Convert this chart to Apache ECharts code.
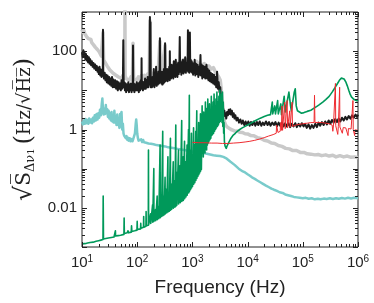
<!DOCTYPE html>
<html><head><meta charset="utf-8">
<script src="https://cdn.jsdelivr.net/npm/echarts@6/dist/echarts.min.js"></script>
<style>html,body{margin:0;padding:0;background:#fff}#c{width:374px;height:303px}</style>
</head><body><div id="c"></div>
<script>
// ---- data: [frequency (Hz), sqrt(S) (Hz/sqrt(Hz))] ----
const grayData = [[10,360],[10.4,300],[10.8,340],[11.2,280],[11.6,300],[12,240],[12.5,260],[13,210],[13.5,230],[14,190],[14.5,200],[15,165],[15.6,175],[16.2,145],[16.8,150],[17.5,125],[18.2,130],[19,110],[19.8,115],[20.6,95],[21.5,90],[22.4,75],[23.4,70],[24,300],[24.6,60],[25.8,55],[27,48],[28.5,42],[30,38],[32,33],[34,35],[36,28],[38,30],[40,25],[43,27],[46,22],[49,24],[52,20],[55,24],[58,20],[59.6,25],[60,1100],[60.4,24],[63,20],[67,22],[72,18],[77,22],[82,18],[84,160],[86,20],[92,22],[98,18],[105,22],[112,19],[120,24],[128,20],[136,24],[145,20],[155,26],[165,22],[170,600],[175,24],[185,26],[200,28],[220,26],[240,30],[258,180],[262,28],[280,32],[300,30],[320,140],[325,32],[350,35],[380,33],[410,40],[440,36],[470,45],[500,42],[540,50],[580,45],[620,55],[660,50],[700,60],[750,55],[800,60],[850,55],[900,60],[960,50],[1000,55],[1100,50],[1200,55],[1300,45],[1400,50],[1500,45],[1650,48],[1800,40],[2000,42],[2200,35],[2400,38],[2600,30],[2800,32],[3000,22],[3200,18],[3350,10],[3500,5],[3650,2.5],[3800,1.6],[4000,1.3],[4300,1.15],[4600,1.05],[5000,1.0],[5500,0.95],[6000,0.9],[6600,0.92],[7200,0.85],[8000,0.84],[9000,0.78],[1e4,0.77],[1.15e4,0.7],[1.3e4,0.69],[1.5e4,0.62],[1.75e4,0.59],[2e4,0.53],[2.3e4,0.51],[2.7e4,0.45],[3.1e4,0.44],[3.6e4,0.39],[4.2e4,0.37],[4.9e4,0.33],[5.7e4,0.32],[6.6e4,0.29],[7.7e4,0.29],[9e4,0.26],[1.05e5,0.26],[1.2e5,0.24],[1.4e5,0.235],[1.65e5,0.225],[1.9e5,0.23],[2.2e5,0.215],[2.6e5,0.225],[3e5,0.21],[3.5e5,0.22],[4e5,0.2],[4.7e5,0.215],[5.5e5,0.2],[6.4e5,0.21],[7.5e5,0.195],[8.7e5,0.2],[1e6,0.19]];

const cyanData = [[10,1.6],[10.4,1.35],[10.8,1.7],[11.2,1.4],[11.6,1.85],[12,1.45],[12.5,1.75],[13,1.4],[13.5,1.9],[14,1.5],[14.6,1.8],[15.2,1.45],[15.8,2.0],[16.4,1.6],[17,2.3],[17.7,1.7],[18.4,2.5],[19.1,1.8],[19.8,2.6],[20.5,2.0],[21.2,3.2],[22,2.3],[22.8,4.5],[23.4,6.2],[24,3.2],[24.7,2.4],[25.4,3.4],[26.2,2.5],[27,4.2],[27.8,2.6],[28.6,3.3],[29.5,2.1],[30.4,3.0],[31.3,1.9],[32.3,2.6],[33.3,1.7],[34.3,2.8],[35.3,1.6],[36.4,2.2],[37.5,1.5],[38.6,3.0],[39.8,1.5],[41,2.0],[42.2,1.3],[43.5,2.4],[44.8,1.3],[46.2,1.8],[47.6,1.1],[49,2.5],[50.5,1.2],[52,2.8],[53.5,1.0],[55,1.4],[56.5,0.8],[58,0.7],[60,0.75],[62,0.6],[64,0.68],[66,0.55],[68,0.62],[70,0.52],[73,0.6],[76,0.5],[79,0.57],[82,0.5],[85,0.58],[88,0.55],[91,0.8],[94,1.4],[96,1.8],[98,1.3],[100,0.8],[103,0.6],[106,0.52],[110,0.58],[114,0.5],[118,0.56],[123,0.48],[128,0.54],[133,0.47],[139,0.52],[145,0.46],[152,0.5],[160,0.44],[168,0.48],[177,0.43],[187,0.47],[198,0.42],[210,0.45],[223,0.4],[237,0.44],[252,0.39],[268,0.42],[285,0.38],[303,0.41],[322,0.37],[343,0.39],[365,0.35],[390,0.38],[415,0.34],[443,0.36],[473,0.33],[505,0.35],[540,0.32],[577,0.34],[617,0.31],[660,0.33],[706,0.3],[755,0.32],[808,0.29],[865,0.31],[926,0.28],[990,0.3],[1060,0.27],[1135,0.29],[1215,0.26],[1300,0.28],[1390,0.25],[1490,0.27],[1600,0.25],[1710,0.26],[1830,0.24],[1960,0.25],[2100,0.23],[2250,0.245],[2400,0.22],[2580,0.235],[2760,0.215],[2960,0.225],[3170,0.21],[3400,0.215],[3640,0.2],[3900,0.2],[4200,0.18],[4500,0.17],[4900,0.15],[5300,0.14],[5800,0.125],[6300,0.115],[6900,0.1],[7500,0.095],[8200,0.085],[9000,0.08],[1e4,0.072],[1.1e4,0.066],[1.2e4,0.06],[1.35e4,0.055],[1.5e4,0.05],[1.7e4,0.045],[1.9e4,0.041],[2.15e4,0.037],[2.4e4,0.034],[2.7e4,0.031],[3e4,0.029],[3.4e4,0.027],[3.8e4,0.025],[4.3e4,0.024],[4.8e4,0.022],[5.4e4,0.021],[6.1e4,0.02],[6.9e4,0.019],[7.8e4,0.0185],[8.8e4,0.018],[1e5,0.0175],[1.13e5,0.018],[1.28e5,0.017],[1.45e5,0.0175],[1.65e5,0.0165],[1.87e5,0.017],[2.1e5,0.0165],[2.4e5,0.0172],[2.7e5,0.0168],[3.1e5,0.0175],[3.5e5,0.0168],[4e5,0.0176],[4.5e5,0.017],[5.1e5,0.0178],[5.8e5,0.0172],[6.6e5,0.018],[7.5e5,0.0174],[8.5e5,0.018],[1e6,0.0176]];

const blackData = [[10,95],[10.3,70],[10.6,105],[10.9,75],[11.2,90],[11.5,62],[11.8,85],[12.1,58],[12.5,75],[12.9,52],[13.3,70],[13.7,48],[14.1,62],[14.6,44],[15.1,55],[15.6,40],[16.1,50],[16.7,36],[17.3,46],[17.9,33],[18.5,42],[19.1,30],[19.6,38],[20.2,26],[20.8,40],[21.4,24],[22.0,34],[22.6,22],[23.3,30],[23.8,24],[24.0,350],[24.3,26],[25,20],[25.8,28],[26.6,18],[27.4,25],[28.2,16],[29,24],[30,15],[31,22],[32,14],[33,20],[34,13],[35,22],[36,12],[37,19],[38.5,12],[40,18],[41.5,11],[43,17],[44.5,10],[46,16],[47.5,11],[49,15],[50.5,10],[52,18],[53.5,11],[55,14],[56,190],[57,12],[58.5,16],[60,10],[61.5,15],[63,9],[65,14],[67,10],[69,16],[71,9],[73,14],[75,10],[77,15],[79,9],[81,14],[83,10],[84,140],[85,11],[87,15],[89,9],[92,14],[95,10],[98,16],[101,10],[104,15],[107,9],[110,16],[113,10],[116,18],[119,11],[120,66],[121,12],[124,17],[127,10],[131,16],[135,11],[139,20],[143,11],[147,18],[151,12],[155,22],[159,12],[163,17],[167,14],[170,740],[172,16],[174,550],[176,12],[180,20],[185,12],[190,22],[195,13],[200,35],[205,12],[210,22],[215,14],[220,40],[225,13],[230,24],[236,14],[242,30],[248,15],[254,25],[258,215],[262,16],[268,26],[274,15],[280,30],[286,14],[292,25],[298,15],[304,35],[310,16],[316,28],[320,160],[325,17],[332,30],[340,18],[348,35],[356,17],[364,30],[372,20],[380,40],[388,18],[390,100],[394,22],[400,38],[410,20],[420,45],[430,22],[440,35],[450,20],[460,55],[470,24],[480,40],[490,22],[500,60],[510,25],[520,45],[535,22],[550,50],[565,26],[580,40],[590,230],[600,30],[615,55],[630,25],[645,50],[660,28],[675,60],[690,27],[705,45],[720,30],[740,70],[760,28],[780,50],[800,32],[820,65],[830,340],[840,30],[860,55],[880,28],[900,300],[915,35],[930,60],[950,30],[970,55],[990,28],[1010,50],[1030,25],[1060,45],[1090,28],[1100,60],[1130,24],[1160,48],[1200,26],[1240,45],[1280,22],[1320,40],[1360,25],[1400,80],[1430,24],[1470,45],[1510,20],[1560,42],[1610,22],[1660,40],[1710,20],[1760,38],[1800,45],[1850,20],[1900,35],[1960,18],[2020,32],[2080,17],[2150,28],[2220,16],[2300,26],[2380,15],[2460,25],[2540,14],[2620,22],[2700,12],[2800,30],[2900,11],[3000,16],[3100,9],[3200,12],[3300,6],[3400,7],[3500,4],[3600,3.5],[3700,2.6],[3800,3],[3900,2.2],[4000,2.6],[4100,1.9],[4250,2.8],[4400,2.3],[4550,3.2],[4700,2.5],[4850,3.3],[5000,2.4],[5200,3],[5400,2.1],[5600,2.6],[5800,1.9],[6000,2.3],[6300,1.7],[6600,2.0],[7000,1.5],[7400,1.8],[7800,1.4],[8200,1.7],[8700,1.3],[9200,1.6],[9700,1.3],[1.03e4,1.6],[1.09e4,1.25],[1.15e4,1.55],[1.22e4,1.3],[1.3e4,1.6],[1.38e4,1.25],[1.47e4,1.55],[1.56e4,1.3],[1.66e4,1.6],[1.77e4,1.25],[1.88e4,1.5],[2e4,1.3],[2.15e4,1.6],[2.3e4,1.3],[2.45e4,1.55],[2.6e4,1.25],[2.8e4,1.5],[3e4,1.3],[3.2e4,1.55],[3.4e4,1.2],[3.65e4,1.5],[3.9e4,1.25],[4.2e4,1.5],[4.5e4,1.2],[4.8e4,1.45],[5.1e4,1.2],[5.5e4,1.45],[5.9e4,1.15],[6.3e4,1.4],[6.8e4,1.2],[7.3e4,1.45],[7.8e4,1.15],[8.4e4,1.4],[9e4,1.2],[9.6e4,1.45],[1.03e5,1.2],[1.1e5,1.4],[1.18e5,1.1],[1.27e5,1.35],[1.36e5,1.05],[1.46e5,1.3],[1.56e5,1.1],[1.68e5,1.4],[1.8e5,1.15],[1.93e5,1.5],[2.07e5,1.25],[2.22e5,1.55],[2.38e5,1.3],[2.55e5,1.6],[2.74e5,1.35],[2.94e5,1.7],[3.15e5,1.4],[3.38e5,1.75],[3.62e5,1.5],[3.88e5,1.85],[4.16e5,1.55],[4.46e5,1.9],[4.78e5,1.6],[5.13e5,2.0],[5.5e5,1.7],[5.9e5,2.1],[6.3e5,1.8],[6.8e5,2.2],[7.3e5,1.9],[7.8e5,2.3],[8.4e5,2.0],[9e5,2.4],[9.6e5,2.1],[1e6,2.4]];

const greenData = [[10,0.0012],[11,0.00122],[12,0.00124],[13,0.00126],[14,0.0013],[16,0.00133],[18,0.0014],[20,0.00145],[22,0.0015],[24,0.00155],[24.2,0.02],[24.5,0.0016],[27,0.00165],[30,0.0017],[34,0.00175],[38,0.0018],[40,0.0019],[40.3,0.0026],[40.6,0.0019],[45,0.00195],[50,0.002],[54,0.0021],[57.5,0.0021],[58,0.0055],[58.5,0.0022],[62,0.0022],[66,0.0023],[68,0.0026],[70,0.0023],[75,0.0024],[78,0.0024],[79,0.0035],[80,0.0025],[90,0.0026],[99,0.0027],[100,0.0045],[101,0.0028],[115,0.0029],[116,0.004],[117,0.003],[130,0.0032],[131,0.006],[132,0.0032],[144,0.0034],[145,0.008],[146,0.0035],[159,0.0036],[160,0.3],[161,0.0037],[174,0.0039],[175,0.007],[176,0.004],[189,0.0042],[190,0.012],[191,0.0043],[199,0.0044],[200,0.1],[201,0.0045],[214,0.0046],[215,0.009],[216,0.0047],[229,0.0049],[230,0.02],[231,0.005],[244,0.0052],[245,0.011],[246,0.0053],[258,0.0055],[260,0.4],[262,0.0056],[274,0.0058],[275,0.015],[276,0.006],[288,0.0062],[290,0.9],[292,0.0063],[304,0.0065],[305,0.02],[306,0.0066],[318,0.0068],[320,0.06],[322,0.007],[338,0.0072],[340,0.03],[342,0.0074],[358,0.0076],[360,0.2],[362,0.0078],[378,0.008],[380,0.025],[382,0.0082],[398,0.0085],[400,0.6],[402,0.0087],[418,0.009],[420,0.04],[422,0.0092],[448,0.0096],[450,0.15],[452,0.0098],[478,0.0102],[480,0.05],[482,0.0104],[498,0.0108],[500,1.3],[503,0.011],[518,0.0113],[520,0.08],[523,0.0116],[557,0.012],[560,0.3],[563,0.0125],[597,0.013],[600,0.12],[603,0.0135],[636,0.014],[640,1.7],[644,0.0145],[676,0.015],[680,0.2],[684,0.0155],[716,0.016],[720,0.5],[724,0.017],[756,0.018],[760,0.15],[764,0.019],[796,0.02],[800,0.4],[805,0.021],[845,0.023],[850,1.0],[855,0.024],[875,0.025],[880,7.5],[885,0.026],[915,0.028],[920,0.3],[925,0.029],[955,0.031],[960,0.8],[965,0.032],[995,0.034],[1000,0.2],[1005,0.035],[1045,0.038],[1050,1.1],[1055,0.04],[1095,0.042],[1100,0.4],[1105,0.044],[1145,0.047],[1150,0.9],[1155,0.05],[1195,0.053],[1200,3],[1205,0.056],[1245,0.06],[1250,0.5],[1255,0.063],[1295,0.066],[1300,1.5],[1305,0.07],[1345,0.074],[1350,0.4],[1355,0.078],[1395,0.082],[1400,2.5],[1405,0.086],[1445,0.09],[1450,0.6],[1455,0.095],[1490,0.1],[1500,4],[1525,0.25],[1550,1.5],[1575,0.2],[1600,2.8],[1630,0.3],[1660,1.2],[1690,0.25],[1720,5],[1750,0.35],[1780,2],[1810,0.3],[1840,3.5],[1870,0.4],[1900,6],[1935,0.45],[1970,2.5],[2000,0.5],[2040,4.5],[2080,0.55],[2120,3],[2160,0.6],[2200,7],[2240,0.7],[2280,3.5],[2320,0.75],[2370,5],[2420,0.8],[2470,8],[2520,0.9],[2570,4],[2620,1.0],[2670,6],[2720,1.1],[2780,9],[2840,1.2],[2900,5],[2960,1.3],[3020,7],[3080,1.5],[3140,10],[3200,1.6],[3260,6],[3320,1.8],[3380,8],[3440,1.5],[3500,9],[3560,1.2],[3620,5],[3680,0.8],[3740,1.5],[3800,0.5],[3900,0.38],[4000,0.34],[4100,0.33],[4250,0.38],[4500,0.45],[5000,0.6],[5500,0.72],[6000,0.8],[6500,0.9],[7200,1.0],[8000,1.1],[9000,1.2],[1e4,1.3],[1.2e4,1.5],[1.4e4,1.7],[1.7e4,1.95],[2e4,2.15],[2.3e4,2.3],[2.6e4,2.4],[2.75e4,2.5],[2.8e4,5],[2.85e4,2.5],[3.0e4,2.6],[3.1e4,4],[3.2e4,2.5],[3.4e4,2.6],[3.5e4,5.5],[3.6e4,2.5],[3.9e4,2.6],[4.0e4,4.5],[4.1e4,2.4],[4.4e4,2.6],[4.6e4,7],[4.8e4,2.8],[5.2e4,3],[5.6e4,9],[5.8e4,10],[6.0e4,4],[6.2e4,3],[6.6e4,3.2],[7.0e4,9],[7.3e4,11],[7.6e4,4],[8.0e4,3],[8.5e4,2.7],[9.5e4,2.6],[1.05e5,2.7],[1.2e5,2.9],[1.4e5,3.1],[1.6e5,3.5],[1.8e5,3.9],[2e5,4.3],[2.3e5,5],[2.6e5,5.8],[3e5,7],[3.4e5,9],[3.8e5,11.5],[4.2e5,14.5],[4.6e5,18],[5e5,20.5],[5.3e5,21],[5.6e5,19.5],[6e5,16.5],[6.4e5,13],[6.8e5,10],[7.2e5,8],[7.6e5,6.8],[8e5,6.2],[8.5e5,5.8],[9e5,5.5],[9.5e5,5.4],[1e6,5.6]];

const redData = [[1000,0.47],[1300,0.46],[1700,0.46],[2200,0.45],[2800,0.45],[3500,0.44],[4500,0.44],[5500,0.45],[7000,0.46],[9000,0.48],[1.1e4,0.5],[1.35e4,0.53],[1.65e4,0.57],[2e4,0.62],[2.4e4,0.68],[2.9e4,0.74],[3.3e4,0.8],[3.35e4,1.3],[3.5e4,1.3],[3.55e4,0.84],[3.9e4,0.9],[3.95e4,1.5],[4.05e4,1.5],[4.1e4,0.95],[4.2e4,4],[4.3e4,0.95],[4.6e4,1.0],[4.7e4,5],[4.8e4,1.05],[5.1e4,1.1],[5.2e4,5.5],[5.3e4,1.1],[5.7e4,1.15],[5.8e4,3],[5.9e4,1.15],[6.3e4,1.2],[6.4e4,5],[6.5e4,1.2],[7.5e4,1.3],[8.5e4,1.35],[1e5,1.4],[1.2e5,1.45],[1.4e5,1.5],[1.6e5,1.5],[1.63e5,7.5],[1.66e5,1.5],[1.9e5,1.52],[2.2e5,1.5],[2.6e5,1.45],[3e5,1.4],[3.4e5,1.3],[3.5e5,0.9],[3.6e5,1.3],[3.85e5,1.25],[3.9e5,15],[3.95e5,1.25],[4.2e5,1.2],[4.3e5,0.75],[4.4e5,1.2],[4.6e5,1.18],[4.65e5,12],[4.7e5,1.16],[5e5,1.15],[5.2e5,0.8],[5.4e5,1.12],[6e5,1.1],[6.5e5,1.08],[6.6e5,0.7],[6.7e5,1.06],[7.5e5,1.03],[8e5,1.0],[8.1e5,5.5],[8.2e5,1.0],[8.6e5,0.98],[8.7e5,0.7],[8.8e5,0.98],[9.5e5,0.95],[1e6,0.95]];

const yTickLabels = {'2':'100','0':'1','-2':'0.01'};
const xTickExponents = [1,2,3,4,5,6];

// ---- chart ----
const X_MIN = 10, X_MAX = 1e6, Y_MIN = 1e-3, Y_MAX = 1e3;
const xMajor = xTickExponents.map(e => Math.pow(10, e));
const yMajor = [-3,-2,-1,0,1,2,3].map(e => Math.pow(10, e));
const xMinor = [], yMinor = [];
for (let e = 1; e < 6; e++) for (let m = 2; m <= 9; m++) xMinor.push(m * Math.pow(10, e));
for (let e = -3; e < 3; e++) for (let m = 2; m <= 9; m++) yMinor.push(m * Math.pow(10, e));

const chart = echarts.init(document.getElementById('c'), null, {renderer: 'canvas'});
const SANS = 'Liberation Sans, Arial, sans-serif';
const SERIF = 'DejaVu Serif, Liberation Serif, serif';
const lineSeries = (name, data, color, width) => ({
  name, type: 'line', data, showSymbol: false, symbol: 'none', silent: true,
  lineStyle: {color, width, join: 'round'}, clip: true
});

chart.setOption({
  animation: false,
  grid: {left: 82, right: 16, top: 12, bottom: 56, show: true, borderColor: '#222', borderWidth: 1},
  xAxis: {
    type: 'log', logBase: 10, min: X_MIN, max: X_MAX, splitNumber: 5,
    axisLine: {show: false}, axisTick: {show: false}, splitLine: {show: false},
    axisLabel: {
      margin: 7, color: '#222',
      formatter: v => '{b|10}{s|' + Math.round(Math.log10(v)) + '}',
      rich: {
        b: {fontSize: 15, fontFamily: SANS, color: '#222', lineHeight: 17},
        s: {fontSize: 10, fontFamily: SANS, color: '#222', lineHeight: 10, verticalAlign: 'top'}
      }
    },
    name: 'Frequency (Hz)', nameLocation: 'middle', nameGap: 31,
    nameTextStyle: {fontSize: 19, fontFamily: SANS, color: '#222'}
  },
  yAxis: {
    type: 'log', logBase: 10, min: Y_MIN, max: Y_MAX, splitNumber: 6,
    axisLine: {show: false}, axisTick: {show: false}, splitLine: {show: false},
    axisLabel: {
      margin: 5, fontSize: 15, fontFamily: SANS, color: '#222',
      formatter: v => yTickLabels[String(Math.round(Math.log10(v)))] || ''
    },
    name: '{r|√}{s|S\u0305}{d|Δν}{o|1}{g| }{p|(}{u|Hz/√H\u0305z\u0305}{p|)}',
    nameLocation: 'middle', nameGap: 45, nameRotate: 90,
    nameTextStyle: {
      color: '#222', fontFamily: SERIF,
      rich: {
        r: {fontSize: 24, fontFamily: SERIF, color: '#222'},
        s: {fontSize: 20, fontFamily: SERIF, color: '#222'},
        d: {fontSize: 13, fontFamily: SERIF, color: '#222', verticalAlign: 'bottom'},
        o: {fontSize: 10, fontFamily: SERIF, color: '#222', verticalAlign: 'bottom'},
        g: {fontSize: 12},
        p: {fontSize: 24, fontFamily: SERIF, color: '#222'},
        u: {fontSize: 18, fontFamily: SERIF, color: '#222'}
      }
    }
  },
  series: [
    lineSeries('gray', grayData, '#c9c9c9', 3.5),
    lineSeries('cyan', cyanData, '#79cbcb', 2.5),
    lineSeries('black', blackData, '#1c1c1c', 2),
    lineSeries('green', greenData, '#00995a', 1.6),
    lineSeries('red', redData, '#ee2a2f', 1),
    {
      type: 'custom', coordinateSystem: 'cartesian2d', silent: true, z: 10, clip: false,
      data: [[X_MIN, 1]],
      renderItem: (params, api) => {
        const cs = params.coordSys;
        const children = [];
        const st = {stroke: '#222', lineWidth: 1};
        const add = (x1, y1, x2, y2) => children.push({type: 'line', shape: {x1, y1, x2, y2}, style: st});
        const bottom = cs.y + cs.height, right = cs.x + cs.width;
        const xt = (v, len) => {
          const px = Math.round(api.coord([v, 1])[0]) + 0.5;
          add(px, bottom, px, bottom - len); add(px, cs.y, px, cs.y + len);
        };
        const yt = (v, len) => {
          const py = Math.round(api.coord([X_MIN, v])[1]) + 0.5;
          add(cs.x, py, cs.x + len, py); add(right, py, right - len, py);
        };
        xMajor.forEach(v => xt(v, 5)); xMinor.forEach(v => xt(v, 3));
        yMajor.forEach(v => yt(v, 5)); yMinor.forEach(v => yt(v, 3));
        return {type: 'group', children};
      }
    }
  ]
});
</script></body></html>
